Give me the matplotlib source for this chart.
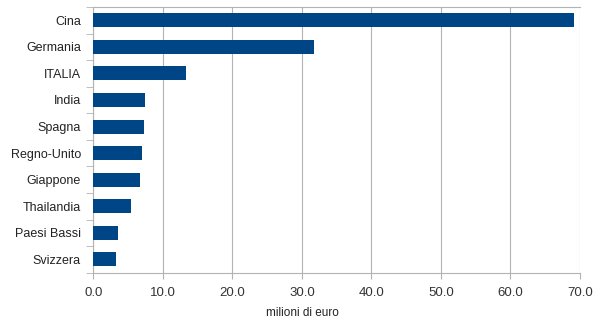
import matplotlib
matplotlib.use("Agg")
import matplotlib.pyplot as plt
import numpy as np

paesi = ["Cina", "Germania", "ITALIA", "India", "Spagna", "Regno-Unito",
         "Giappone", "Thailandia", "Paesi Bassi", "Svizzera"]
valori = [69.2, 31.7, 13.4, 7.4, 7.3, 7.0, 6.7, 5.4, 3.6, 3.3]
xticks = [0, 10, 20, 30, 40, 50, 60, 70]

plt.rcParams["font.family"] = "Liberation Sans"

fig = plt.figure(figsize=(6.03, 3.25), dpi=100)
ax = fig.add_axes([0.1547, 0.161, 0.8072, 0.8175])

y = np.arange(len(paesi))
ax.barh(y, valori, height=0.53, color="#004586", zorder=3)

ax.set_ylim(len(paesi) - 0.5, -0.5)
ax.set_xlim(0, 70)

ax.set_yticks(y)
ax.set_yticklabels(paesi, fontsize=9, color="#222222")
ax.set_yticks(np.arange(len(paesi) + 1) - 0.5, minor=True)
ax.tick_params(axis="y", which="major", length=0, pad=9)
ax.tick_params(axis="y", which="minor", length=5, color="#b3b3b3", direction="out")

ax.set_xticks(xticks)
ax.set_xticklabels(["%.1f" % v for v in xticks], fontsize=9.5, color="#333333")
ax.tick_params(axis="x", length=4, color="#b3b3b3", pad=6)

ax.grid(axis="x", color="#b3b3b3", linewidth=0.8, zorder=0)

ax.spines["right"].set_visible(False)
for s in ["left", "bottom", "top"]:
    ax.spines[s].set_color("#b3b3b3")
    ax.spines[s].set_linewidth(0.8)

ax.set_xlabel("milioni di euro", fontsize=8.5, color="#222222", labelpad=9)
ax.xaxis.set_label_coords(0.429, -0.13)

fig.savefig("out.png", dpi=100, facecolor="white")
